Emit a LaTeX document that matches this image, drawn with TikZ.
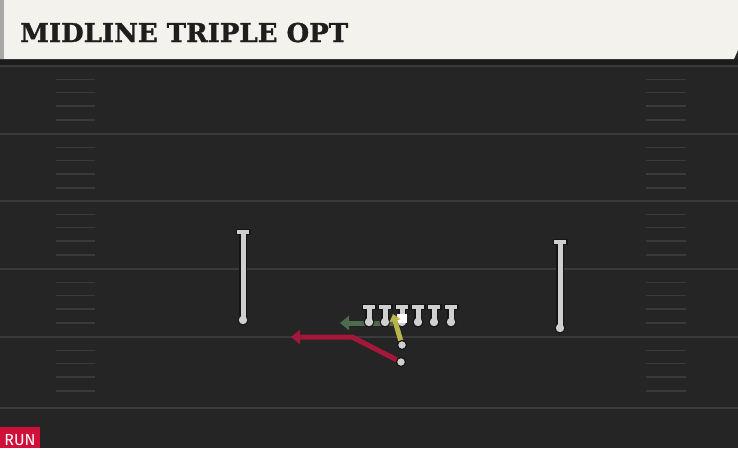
\documentclass[tikz,border=0pt]{standalone}
\usepackage{fontspec}
\setsansfont{Fira Sans}
\newfontfamily\slabfont[BoldFeatures={FakeBold=1.2}]{DejaVu Serif}
\usetikzlibrary{arrows.meta}

\definecolor{turf}{HTML}{252525}
\definecolor{turfdark}{HTML}{1C1C1C}
\definecolor{chalkline}{HTML}{3A3A3A}
\definecolor{banner}{HTML}{F4F2EC}
\definecolor{bannerside}{HTML}{A8A8A8}
\definecolor{ink}{HTML}{1E1E1E}
\definecolor{chalk}{HTML}{CFCFCF}
\definecolor{rim}{HTML}{151515}
\definecolor{runred}{HTML}{A3173A}
\definecolor{runtag}{HTML}{D0103A}
\definecolor{blockgreen}{HTML}{4F6A4F}
\definecolor{qbyellow}{HTML}{B9B54B}

\tikzset{
  yardline/.style={chalkline, line width=2.2pt},
  hashmark/.style={chalkline, line width=1.8pt},
  route/.style={line width=5pt, -{Triangle[length=9pt,width=14pt]}},
  pics/tee/.style={code={
      \draw[rim, line width=7.5pt] (0,0) -- (0,#1);
      \draw[rim, line width=6.5pt] (-7.5,1) -- (7.5,1);
      \fill[rim] (0,#1) circle[radius=5.5pt];
      \draw[chalk, line width=5pt] (0,0) -- (0,#1);
      \draw[chalk, line width=4pt] (-6,1) -- (6,1);
      \fill[chalk] (0,#1) circle[radius=4.2pt];
  }},
  dot/.style={circle, inner sep=0pt, minimum size=9pt, fill=chalk, draw=rim, line width=1.2pt}
}

\begin{document}
\begin{tikzpicture}[x=1pt,y=-1pt]
  \useasboundingbox (0,0) rectangle (738,448);

  % field
  \fill[turf] (0,0) rectangle (738,448);
  \fill[turfdark] (0,59) rectangle (738,66);
  \foreach \yd in {66,134,201,269,337,408}
    \draw[yardline] (0,\yd) -- (738,\yd);
  \foreach \yd in {66,134,201,269,337}
    \foreach \h in {13.5,26.5,40,54} {
      \draw[hashmark] (56,\yd+\h) -- (95,\yd+\h);
      \draw[hashmark] (646,\yd+\h) -- (686,\yd+\h);
    }

  % header
  \fill[banner] (0,0) -- (738,0) -- (738,50) -- (734,59) -- (0,59) -- cycle;
  \fill[bannerside] (0,0) rectangle (4,59);
  \node[anchor=base west, inner sep=0pt, text=ink, font=\slabfont\bfseries\fontsize{26}{26}\selectfont] (title) at (20,42) {MIDLINE TRIPLE OPT};

  % tag
  \fill[runtag] (0,427) rectangle (40,448);
  \node[anchor=base, inner sep=0pt, text=white, font=\sffamily\fontsize{16}{16}\selectfont] (tag) at (20,445) {RUN};

  % spots
  \coordinate (rb) at (401,362);
  \coordinate (qb) at (402,345);
  \coordinate (pivot) at (352,337);
  \coordinate (pitch) at (291,337);
  \coordinate (mesh) at (393,314);
  \coordinate (pull) at (393,323);
  \coordinate (gap) at (340,323);

  % block
  \draw[route, blockgreen] (pull) -- (gap);

  % line and receivers
  \foreach \lx in {369,385,402,418,434,451}
    \pic at (\lx,306) {tee=16};
  \fill[white] (397,314) rectangle (407,323);
  \pic at (243,231) {tee=89};
  \pic at (560,241) {tee=87};

  % backs
  \draw[route, qbyellow, -{Triangle[length=7pt,width=11pt]}] (qb) -- (mesh);
  \draw[route, runred] (rb) -- (pivot) -- (pitch);
  \node[dot] (qbdot) at (qb) {};
  \node[dot] (rbdot) at (rb) {};
\end{tikzpicture}
\end{document}
